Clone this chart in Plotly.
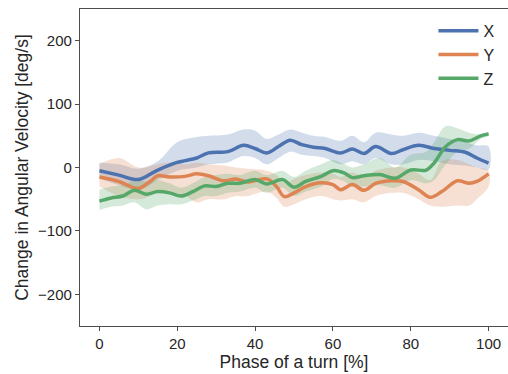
import plotly.graph_objects as go

# Phase (% of turn), mean and band limits of the angular velocity change per axis
x_phase = [0, 5, 10, 15, 20, 25, 28, 33, 37, 40, 43, 46, 49, 52, 55, 58, 62, 65, 68, 71, 75, 78, 82, 86, 90, 94, 97, 100]
x_mean = [-5, -12, -19, -4, 8, 15, 23, 25, 35, 30, 23, 33, 43, 36, 32, 30, 23, 29, 22, 33, 22, 28, 35, 30, 27, 24, 15, 7]
x_upper = [8, 5, -2, 10, 40, 48, 50, 52, 60, 58, 45, 52, 60, 55, 50, 48, 42, 50, 40, 55, 52, 50, 55, 50, 45, 40, 35, 33]
x_lower = [-17, -28, -35, -20, -5, 0, 5, 8, 18, 15, 5, 15, 25, 20, 18, 15, 5, 10, 5, 15, 5, 5, 12, 10, 5, 3, 0, -3]

y_phase = [0, 5, 10, 13, 15, 18, 22, 25, 28, 32, 35, 38, 43, 45.5, 47.5, 50, 53, 57, 60, 62, 65, 68, 71, 75, 78, 82, 85, 88, 92, 95, 97, 100]
y_mean = [-15, -22, -33, -22, -13, -15, -14, -10, -13, -21, -18, -23, -18, -30, -46, -40, -30, -24, -27, -35, -27, -36, -25, -21, -22, -35, -47, -38, -21, -25, -22, -10]
y_upper = [5, 15, 0, 2, 5, 8, 5, 8, 5, 3, 0, -2, -5, -12, -25, -18, -12, -8, -10, -15, -8, -15, -5, 0, 0, -10, -20, 10, 12, 5, 0, -5]
y_lower = [-30, -45, -50, -45, -35, -40, -45, -55, -50, -50, -45, -45, -38, -48, -62, -58, -50, -45, -50, -52, -50, -55, -45, -40, -40, -50, -60, -62, -60, -60, -50, -30]

z_phase = [0, 3, 6, 9, 12, 15, 18, 21, 24, 27, 30, 33, 36, 40, 43, 47, 50, 53, 57, 60, 63, 65, 68, 72, 76, 80, 84, 86, 89, 92, 95, 98, 100]
z_mean = [-53, -48, -45, -36, -42, -38, -40, -45, -38, -29, -30, -25, -25, -19, -26, -19, -31, -22, -14, -5, -9, -16, -13, -11, -17, -4, -4, 7, 33, 44, 42, 50, 53]
z_upper = [-35, -30, -28, -20, -22, -20, -25, -32, -25, -15, -12, -10, -12, -5, -12, -5, -15, -5, 5, 12, 5, 0, 5, 15, 0, 20, 25, 40, 65, 62, 55, 52, 55]
z_lower = [-67, -62, -60, -55, -66, -60, -58, -58, -52, -45, -45, -40, -38, -32, -40, -32, -45, -38, -30, -18, -22, -30, -30, -28, -32, -20, -25, -20, 5, 25, 30, 45, 50]

x_ticks = [0, 20, 40, 60, 80, 100]
y_ticks = [-200, -100, 0, 100, 200]

series = [
    ("X", x_phase, x_mean, x_upper, x_lower, "#4C72B0", "rgba(76,114,176,0.25)"),
    ("Y", y_phase, y_mean, y_upper, y_lower, "#DD8452", "rgba(221,132,82,0.25)"),
    ("Z", z_phase, z_mean, z_upper, z_lower, "#55A868", "rgba(85,168,104,0.25)"),
]

fig = go.Figure()

# Shaded spread bands first, so the mean lines sit on top
for name, ph, mean, up, lo, col, fill in series:
    fig.add_trace(go.Scatter(
        x=ph + ph[::-1], y=up + lo[::-1],
        fill="toself", fillcolor=fill, line=dict(width=0, shape="spline"),
        mode="lines", hoverinfo="skip", showlegend=False,
    ))

for name, ph, mean, up, lo, col, fill in series:
    fig.add_trace(go.Scatter(
        x=ph, y=mean, name=name, mode="lines",
        line=dict(color=col, width=3.5, shape="spline", smoothing=1.0),
    ))

axis_common = dict(
    showline=True, linecolor="#4d4d4d", linewidth=1.2, mirror=True,
    ticks="outside", ticklen=4, tickcolor="#4d4d4d", tickwidth=1.2,
    showgrid=False, zeroline=False,
    tickfont=dict(size=15, color="#262626"),
    title_font=dict(size=17.5, color="#262626"),
)

fig.update_layout(
    width=508, height=374,
    margin=dict(l=80, r=0, t=9, b=48),
    paper_bgcolor="white", plot_bgcolor="white",
    font=dict(family="Liberation Sans, Arial, sans-serif", color="#262626"),
    xaxis=dict(range=[-5, 105], tickvals=x_ticks, title=dict(text="Phase of a turn [%]", standoff=2), **axis_common),
    yaxis=dict(range=[-250, 250], tickvals=y_ticks, tickformat="d",
               title=dict(text="Change in Angular Velocity [deg/s]", standoff=4), **axis_common),
    legend=dict(x=0.98, y=0.985, xanchor="right", yanchor="top",
                bgcolor="rgba(0,0,0,0)", font=dict(size=16, color="#262626"),
                itemwidth=40, tracegroupgap=0),
)

fig.write_html("out.html")
